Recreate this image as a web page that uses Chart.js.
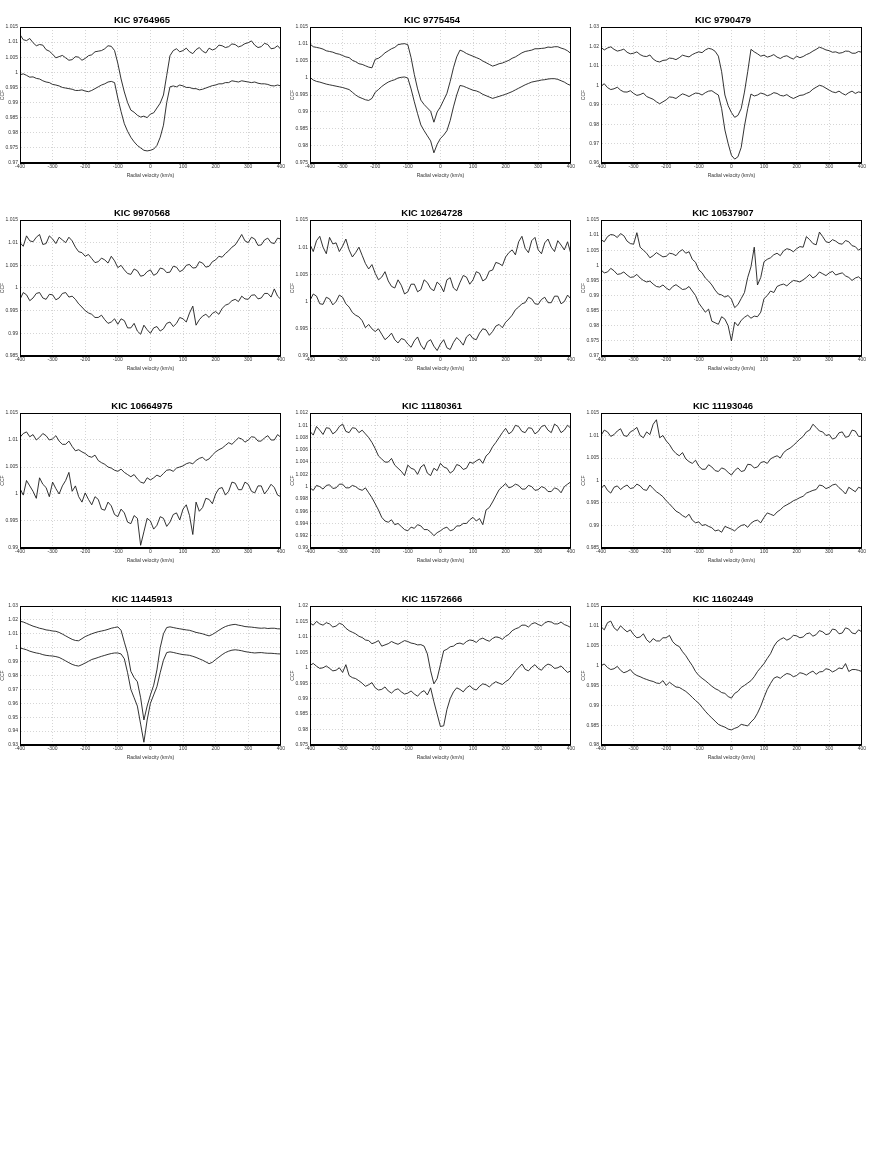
<!DOCTYPE html>
<html>
<head>
<meta charset="utf-8">
<script src="https://cdn.jsdelivr.net/npm/chart.js@4.4.1/dist/chart.umd.min.js"></script>
<style>
  body { margin: 0; background: #fff; }
  #wrap { position: relative; width: 872px; height: 1164px; }
  canvas { position: absolute; }
</style>
</head>
<body>
<div id="wrap"></div>
<script>
// radial velocity grid (km/s), rows of ten
const vel = [
  -400, -390, -380, -370, -360, -350, -340, -330, -320, -310,
  -300, -290, -280, -270, -260, -250, -240, -230, -220, -210,
  -200, -190, -180, -170, -160, -150, -140, -130, -120, -110,
  -100, -90, -80, -70, -60, -50, -40, -30, -20, -10,
  0, 10, 20, 30, 40, 50, 60, 70, 80, 90,
  100, 110, 120, 130, 140, 150, 160, 170, 180, 190,
  200, 210, 220, 230, 240, 250, 260, 270, 280, 290,
  300, 310, 320, 330, 340, 350, 360, 370, 380, 390,
  400];

const titles = ['KIC 9764965', 'KIC 9775454', 'KIC 9790479', 'KIC 9970568', 'KIC 10264728', 'KIC 10537907',
  'KIC 10664975', 'KIC 11180361', 'KIC 11193046', 'KIC 11445913', 'KIC 11572666', 'KIC 11602449'];
const yMins = [0.97, 0.975, 0.96, 0.985, 0.99, 0.97, 0.99, 0.99, 0.985, 0.93, 0.975, 0.98];
const yMaxs = [1.015, 1.015, 1.03, 1.015, 1.015, 1.015, 1.015, 1.012, 1.015, 1.03, 1.02, 1.015];
const ySteps = [0.005, 0.005, 0.01, 0.005, 0.005, 0.005, 0.005, 0.002, 0.005, 0.01, 0.005, 0.005];

// CCF curves (upper / lower)
const top9764965 = [
  1.0125, 1.0108, 1.0105, 1.0112, 1.0098, 1.0088, 1.0092, 1.0090, 1.0075, 1.0070,
  1.0060, 1.0048, 1.0052, 1.0056, 1.0048, 1.0040, 1.0042, 1.0052, 1.0050, 1.0040,
  1.0046, 1.0055, 1.0058, 1.0068, 1.0070, 1.0072, 1.0078, 1.0088, 1.0086, 1.0072,
  1.0030, 0.9978, 0.9935, 0.9900, 0.9875, 0.9868, 0.9858, 0.9852, 0.9855, 0.9850,
  0.9862, 0.9866, 0.9882, 0.9898, 0.9925, 0.9990, 1.0055, 1.0072, 1.0078, 1.0068,
  1.0072, 1.0080, 1.0068, 1.0062, 1.0075, 1.0082, 1.0070, 1.0064, 1.0080, 1.0074,
  1.0078, 1.0090, 1.0088, 1.0082, 1.0085, 1.0094, 1.0092, 1.0084, 1.0088, 1.0095,
  1.0098, 1.0104, 1.0090, 1.0082, 1.0085, 1.0096, 1.0092, 1.0078, 1.0080, 1.0088,
  1.0076];
const bot9764965 = [
  0.9992, 0.9995, 0.9990, 0.9984, 0.9985, 0.9980, 0.9978, 0.9972, 0.9968, 0.9966,
  0.9960, 0.9958, 0.9955, 0.9950, 0.9948, 0.9946, 0.9944, 0.9940, 0.9940, 0.9942,
  0.9938, 0.9936, 0.9940, 0.9946, 0.9952, 0.9958, 0.9962, 0.9968, 0.9970, 0.9966,
  0.9915, 0.9870, 0.9830, 0.9805, 0.9785, 0.9770, 0.9758, 0.9750, 0.9742, 0.9740,
  0.9742, 0.9746, 0.9758, 0.9785, 0.9825, 0.9900, 0.9952, 0.9955, 0.9952, 0.9958,
  0.9955, 0.9950, 0.9950, 0.9946, 0.9946, 0.9942, 0.9944, 0.9948, 0.9952, 0.9956,
  0.9958, 0.9962, 0.9962, 0.9966, 0.9966, 0.9972, 0.9970, 0.9968, 0.9972, 0.9970,
  0.9968, 0.9966, 0.9968, 0.9964, 0.9962, 0.9962, 0.9960, 0.9956, 0.9955, 0.9958,
  0.9955];

const top9775454 = [
  1.0100, 1.0092, 1.0090, 1.0088, 1.0085, 1.0080, 1.0078, 1.0076, 1.0072, 1.0070,
  1.0066, 1.0062, 1.0060, 1.0052, 1.0048, 1.0042, 1.0040, 1.0036, 1.0032, 1.0030,
  1.0055, 1.0058, 1.0065, 1.0074, 1.0080, 1.0086, 1.0090, 1.0098, 1.0100, 1.0101,
  1.0098, 1.0060, 1.0010, 0.9968, 0.9935, 0.9922, 0.9912, 0.9902, 0.9870, 0.9900,
  0.9915, 0.9935, 0.9955, 0.9990, 1.0030, 1.0062, 1.0082, 1.0078, 1.0072, 1.0068,
  1.0064, 1.0060, 1.0056, 1.0050, 1.0045, 1.0040, 1.0035, 1.0038, 1.0042, 1.0044,
  1.0048, 1.0052, 1.0058, 1.0062, 1.0068, 1.0074, 1.0078, 1.0080, 1.0082, 1.0086,
  1.0086, 1.0087, 1.0088, 1.0091, 1.0090, 1.0092, 1.0092, 1.0088, 1.0085, 1.0080,
  1.0072];
const bot9775454 = [
  1.0002, 0.9994, 0.9990, 0.9988, 0.9985, 0.9982, 0.9980, 0.9978, 0.9976, 0.9974,
  0.9972, 0.9969, 0.9966, 0.9958, 0.9950, 0.9944, 0.9940, 0.9936, 0.9934, 0.9940,
  0.9958, 0.9966, 0.9975, 0.9982, 0.9988, 0.9992, 0.9995, 1.0000, 1.0002, 1.0003,
  1.0000, 0.9968, 0.9930, 0.9895, 0.9862, 0.9845, 0.9830, 0.9815, 0.9780, 0.9805,
  0.9822, 0.9832, 0.9845, 0.9875, 0.9915, 0.9950, 0.9978, 0.9976, 0.9972, 0.9968,
  0.9964, 0.9962, 0.9958, 0.9952, 0.9948, 0.9944, 0.9940, 0.9943, 0.9946, 0.9949,
  0.9952, 0.9956, 0.9960, 0.9965, 0.9970, 0.9975, 0.9980, 0.9984, 0.9988, 0.9990,
  0.9992, 0.9994, 0.9995, 0.9997, 0.9998, 0.9998, 0.9996, 0.9992, 0.9988, 0.9982,
  0.9978];

const top9790479 = [
  1.0195, 1.0182, 1.0192, 1.0198, 1.0185, 1.0176, 1.0180, 1.0186, 1.0170, 1.0162,
  1.0165, 1.0172, 1.0158, 1.0150, 1.0148, 1.0156, 1.0135, 1.0124, 1.0120, 1.0128,
  1.0130, 1.0140, 1.0138, 1.0132, 1.0142, 1.0155, 1.0150, 1.0146, 1.0158, 1.0166,
  1.0172, 1.0168, 1.0182, 1.0190, 1.0186, 1.0175, 1.0150, 1.0070, 0.9950, 0.9895,
  0.9860, 0.9835, 0.9845, 0.9880, 0.9965, 1.0070, 1.0185, 1.0172, 1.0162, 1.0150,
  1.0155, 1.0145, 1.0150, 1.0158, 1.0145, 1.0138, 1.0148, 1.0152, 1.0142, 1.0135,
  1.0150, 1.0142, 1.0148, 1.0158, 1.0165, 1.0176, 1.0185, 1.0196, 1.0190, 1.0182,
  1.0178, 1.0170, 1.0172, 1.0165, 1.0168, 1.0176, 1.0175, 1.0165, 1.0165, 1.0174,
  1.0170];
const bot9790479 = [
  0.9995, 1.0008, 0.9988, 0.9978, 0.9982, 0.9990, 0.9975, 0.9966, 0.9965, 0.9972,
  0.9958, 0.9948, 0.9952, 0.9960, 0.9942, 0.9935, 0.9928, 0.9915, 0.9905, 0.9915,
  0.9925, 0.9940, 0.9938, 0.9932, 0.9945, 0.9956, 0.9950, 0.9942, 0.9952, 0.9960,
  0.9958, 0.9950, 0.9962, 0.9970, 0.9972, 0.9960, 0.9950, 0.9880, 0.9770, 0.9700,
  0.9640, 0.9620, 0.9632, 0.9680, 0.9790, 0.9880, 0.9955, 0.9945, 0.9950, 0.9960,
  0.9955, 0.9946, 0.9952, 0.9962, 0.9958, 0.9948, 0.9945, 0.9952, 0.9940, 0.9932,
  0.9940, 0.9948, 0.9950, 0.9958, 0.9965, 0.9980, 0.9990, 1.0000, 0.9995, 0.9985,
  0.9975, 0.9966, 0.9962, 0.9970, 0.9958, 0.9950, 0.9962, 0.9970, 0.9958, 0.9966,
  0.9962];

const top9970568 = [
  1.0100, 1.0092, 1.0115, 1.0104, 1.0102, 1.0112, 1.0118, 1.0096, 1.0098, 1.0115,
  1.0108, 1.0098, 1.0112, 1.0106, 1.0100, 1.0112, 1.0104, 1.0090, 1.0080, 1.0078,
  1.0070, 1.0074, 1.0065, 1.0056, 1.0058, 1.0066, 1.0062, 1.0055, 1.0070, 1.0060,
  1.0045, 1.0050, 1.0040, 1.0032, 1.0030, 1.0042, 1.0038, 1.0026, 1.0028, 1.0036,
  1.0040, 1.0028, 1.0032, 1.0044, 1.0042, 1.0034, 1.0035, 1.0048, 1.0046, 1.0036,
  1.0040, 1.0050, 1.0052, 1.0044, 1.0045, 1.0058, 1.0055, 1.0046, 1.0048, 1.0058,
  1.0062, 1.0070, 1.0068, 1.0076, 1.0082, 1.0090, 1.0095, 1.0106, 1.0118, 1.0104,
  1.0100, 1.0112, 1.0108, 1.0094, 1.0095, 1.0106, 1.0110, 1.0100, 1.0098, 1.0110,
  1.0108];
const bot9970568 = [
  0.9975, 0.9990, 0.9985, 0.9972, 0.9978, 0.9988, 0.9990, 0.9978, 0.9975, 0.9986,
  0.9985, 0.9974, 0.9978, 0.9988, 0.9990, 0.9980, 0.9982, 0.9975, 0.9965, 0.9958,
  0.9950, 0.9945, 0.9942, 0.9935, 0.9935, 0.9940, 0.9930, 0.9922, 0.9925, 0.9932,
  0.9920, 0.9932, 0.9928, 0.9912, 0.9912, 0.9922, 0.9905, 0.9898, 0.9918, 0.9908,
  0.9900, 0.9912, 0.9915, 0.9905, 0.9910, 0.9922, 0.9925, 0.9915, 0.9922, 0.9935,
  0.9932, 0.9925, 0.9945, 0.9960, 0.9918, 0.9930, 0.9938, 0.9942, 0.9935, 0.9944,
  0.9948, 0.9942, 0.9955, 0.9962, 0.9965, 0.9972, 0.9975, 0.9970, 0.9982, 0.9976,
  0.9975, 0.9984, 0.9985, 0.9976, 0.9978, 0.9988, 0.9988, 0.9980, 0.9998, 0.9982,
  0.9975];

const top10264728 = [
  1.0105, 1.0092, 1.0112, 1.0120, 1.0100, 1.0088, 1.0118, 1.0106, 1.0108, 1.0092,
  1.0102, 1.0115, 1.0095, 1.0082, 1.0090, 1.0100, 1.0085, 1.0070, 1.0060, 1.0068,
  1.0052, 1.0040, 1.0045, 1.0055, 1.0038, 1.0028, 1.0025, 1.0040, 1.0030, 1.0014,
  1.0018, 1.0032, 1.0032, 1.0018, 1.0022, 1.0040, 1.0035, 1.0024, 1.0020, 1.0036,
  1.0030, 1.0018, 1.0040, 1.0044, 1.0025, 1.0020, 1.0035, 1.0048, 1.0045, 1.0032,
  1.0040, 1.0055, 1.0052, 1.0038, 1.0042, 1.0056, 1.0058, 1.0072, 1.0070, 1.0066,
  1.0082, 1.0090, 1.0095, 1.0086, 1.0110, 1.0120, 1.0098, 1.0090, 1.0112, 1.0118,
  1.0095, 1.0088, 1.0108, 1.0115, 1.0100, 1.0092, 1.0112, 1.0104, 1.0095, 1.0110,
  1.0088];
const bot10264728 = [
  1.0002, 1.0014, 1.0010, 0.9996, 0.9995, 1.0008, 1.0005, 0.9994, 1.0000, 1.0012,
  1.0008, 0.9996, 0.9990, 0.9980, 0.9975, 0.9972, 0.9965, 0.9952, 0.9958, 0.9950,
  0.9945, 0.9950, 0.9940, 0.9930, 0.9935, 0.9942, 0.9930, 0.9924, 0.9932, 0.9930,
  0.9922, 0.9916, 0.9928, 0.9935, 0.9920, 0.9912, 0.9926, 0.9930, 0.9918, 0.9910,
  0.9922, 0.9930, 0.9915, 0.9912, 0.9925, 0.9934, 0.9928, 0.9920, 0.9935, 0.9940,
  0.9932, 0.9930, 0.9942, 0.9950, 0.9948, 0.9938, 0.9945, 0.9955, 0.9958, 0.9952,
  0.9962, 0.9968, 0.9975, 0.9985, 0.9990, 0.9996, 0.9998, 1.0008, 1.0005, 0.9996,
  0.9995, 1.0004, 1.0008, 0.9998, 0.9998, 1.0010, 1.0010, 0.9996, 1.0000, 1.0012,
  1.0005];

const top10537907 = [
  1.0085, 1.0078, 1.0095, 1.0102, 1.0100, 1.0092, 1.0105, 1.0098, 1.0080, 1.0072,
  1.0070, 1.0108, 1.0060, 1.0050, 1.0040, 1.0025, 1.0032, 1.0042, 1.0035, 1.0028,
  1.0030, 1.0040, 1.0038, 1.0032, 1.0045, 1.0052, 1.0040, 1.0045, 1.0020, 1.0010,
  0.9985, 0.9975, 0.9958, 0.9948, 0.9935, 0.9918, 0.9905, 0.9902, 0.9895, 0.9900,
  0.9888, 0.9860, 0.9870, 0.9890, 0.9910, 0.9960, 0.9995, 1.0060, 0.9935, 0.9960,
  1.0012, 1.0020, 1.0025, 1.0035, 1.0040, 1.0032, 1.0048, 1.0055, 1.0052, 1.0045,
  1.0055, 1.0062, 1.0060, 1.0095, 1.0085, 1.0072, 1.0068, 1.0110, 1.0095, 1.0078,
  1.0075, 1.0085, 1.0080, 1.0072, 1.0070, 1.0082, 1.0078, 1.0065, 1.0062, 1.0050,
  1.0058];
const bot10537907 = [
  0.9985, 0.9975, 0.9978, 0.9990, 0.9982, 0.9970, 0.9972, 0.9978, 0.9968, 0.9960,
  0.9962, 0.9970, 0.9958, 0.9950, 0.9945, 0.9948, 0.9938, 0.9930, 0.9928, 0.9935,
  0.9925, 0.9918, 0.9930, 0.9936, 0.9928, 0.9920, 0.9922, 0.9930, 0.9915, 0.9900,
  0.9875, 0.9860, 0.9845, 0.9855, 0.9815, 0.9810, 0.9805, 0.9830, 0.9822, 0.9800,
  0.9750, 0.9812, 0.9800, 0.9818, 0.9828, 0.9835, 0.9825, 0.9832, 0.9830, 0.9845,
  0.9890, 0.9900, 0.9915, 0.9910, 0.9930, 0.9935, 0.9938, 0.9932, 0.9942, 0.9950,
  0.9948, 0.9945, 0.9952, 0.9960, 0.9970, 0.9958, 0.9965, 0.9978, 0.9972, 0.9966,
  0.9975, 0.9980, 0.9968, 0.9972, 0.9975, 0.9965, 0.9960, 0.9950, 0.9958, 0.9962,
  0.9952];

const top10664975 = [
  1.0105, 1.0112, 1.0115, 1.0106, 1.0110, 1.0100, 1.0105, 1.0112, 1.0108, 1.0100,
  1.0102, 1.0108, 1.0098, 1.0092, 1.0092, 1.0098, 1.0088, 1.0080, 1.0082, 1.0078,
  1.0075, 1.0070, 1.0068, 1.0072, 1.0062, 1.0058, 1.0055, 1.0050, 1.0048, 1.0044,
  1.0042, 1.0046, 1.0040, 1.0036, 1.0032, 1.0036, 1.0028, 1.0022, 1.0020, 1.0030,
  1.0026, 1.0030, 1.0035, 1.0032, 1.0038, 1.0044, 1.0045, 1.0042, 1.0048, 1.0050,
  1.0052, 1.0056, 1.0058, 1.0056, 1.0062, 1.0066, 1.0068, 1.0062, 1.0065, 1.0072,
  1.0078, 1.0082, 1.0085, 1.0090, 1.0095, 1.0092, 1.0098, 1.0104, 1.0102, 1.0096,
  1.0100, 1.0106, 1.0105, 1.0098, 1.0098, 1.0104, 1.0108, 1.0100, 1.0100, 1.0110,
  1.0105];
const bot10664975 = [
  1.0010, 0.9998, 1.0025, 1.0015, 1.0005, 0.9992, 1.0030, 1.0018, 1.0012, 0.9995,
  1.0022, 1.0010, 1.0000, 1.0015, 1.0025, 1.0040, 1.0005, 1.0015, 0.9995, 0.9985,
  1.0002, 0.9990, 0.9980, 0.9995, 0.9990, 0.9972, 0.9970, 0.9985, 0.9978, 0.9962,
  0.9958, 0.9972, 0.9965, 0.9948, 0.9945, 0.9960, 0.9955, 0.9905, 0.9930, 0.9955,
  0.9950, 0.9935, 0.9942, 0.9958, 0.9955, 0.9940, 0.9948, 0.9962, 0.9965, 0.9952,
  0.9972, 0.9980, 0.9960, 0.9925, 0.9985, 0.9968, 0.9975, 0.9992, 0.9990, 0.9982,
  1.0000, 1.0010, 1.0012, 0.9998, 1.0005, 1.0022, 1.0020, 1.0008, 1.0008, 1.0022,
  1.0018, 1.0005, 1.0002, 1.0015, 1.0015, 1.0000, 1.0008, 1.0018, 1.0012, 0.9998,
  0.9995];

const top11180361 = [
  1.0090, 1.0084, 1.0098, 1.0092, 1.0085, 1.0096, 1.0095, 1.0086, 1.0090, 1.0098,
  1.0102, 1.0090, 1.0088, 1.0096, 1.0095, 1.0088, 1.0092, 1.0086, 1.0080, 1.0072,
  1.0062, 1.0050, 1.0045, 1.0040, 1.0040, 1.0046, 1.0035, 1.0030, 1.0025, 1.0018,
  1.0035, 1.0030, 1.0028, 1.0020, 1.0032, 1.0036, 1.0022, 1.0018, 1.0030, 1.0026,
  1.0038, 1.0032, 1.0030, 1.0022, 1.0026, 1.0036, 1.0034, 1.0028, 1.0030, 1.0040,
  1.0038, 1.0042, 1.0045, 1.0038, 1.0050, 1.0055, 1.0065, 1.0072, 1.0080, 1.0088,
  1.0095, 1.0086, 1.0090, 1.0100, 1.0098, 1.0090, 1.0088, 1.0096, 1.0095, 1.0086,
  1.0090, 1.0098, 1.0100, 1.0092, 1.0088, 1.0102, 1.0098, 1.0088, 1.0092, 1.0100,
  1.0095];
const bot11180361 = [
  0.9998, 0.9994, 1.0002, 1.0000, 0.9996, 1.0002, 1.0003, 0.9997, 0.9998, 1.0004,
  1.0004, 0.9998, 0.9998, 1.0002, 1.0000, 0.9996, 0.9994, 0.9998, 0.9990, 0.9982,
  0.9972, 0.9962, 0.9950, 0.9944, 0.9942, 0.9946, 0.9938, 0.9940, 0.9935, 0.9930,
  0.9928, 0.9934, 0.9932, 0.9938, 0.9936, 0.9930, 0.9930, 0.9926, 0.9920, 0.9925,
  0.9928, 0.9932, 0.9934, 0.9928, 0.9930, 0.9936, 0.9936, 0.9940, 0.9940, 0.9946,
  0.9950, 0.9944, 0.9948, 0.9938, 0.9962, 0.9966, 0.9975, 0.9985, 0.9995, 1.0000,
  1.0005, 0.9998, 1.0000, 1.0004, 1.0002, 0.9996, 0.9996, 1.0002, 1.0000, 0.9994,
  0.9995, 1.0000, 0.9998, 0.9992, 0.9992, 0.9998, 0.9996, 0.9990, 1.0000, 1.0004,
  1.0008];

const top11193046 = [
  1.0100, 1.0112, 1.0108, 1.0098, 1.0102, 1.0110, 1.0115, 1.0100, 1.0098, 1.0108,
  1.0112, 1.0118, 1.0100, 1.0095, 1.0108, 1.0102, 1.0125, 1.0135, 1.0095, 1.0100,
  1.0088, 1.0080, 1.0068, 1.0060, 1.0055, 1.0062, 1.0048, 1.0042, 1.0038, 1.0045,
  1.0032, 1.0025, 1.0025, 1.0035, 1.0030, 1.0022, 1.0020, 1.0028, 1.0025, 1.0018,
  1.0012, 1.0022, 1.0028, 1.0020, 1.0022, 1.0036, 1.0035, 1.0028, 1.0030, 1.0040,
  1.0042, 1.0038, 1.0048, 1.0052, 1.0055, 1.0050, 1.0062, 1.0068, 1.0072, 1.0078,
  1.0085, 1.0092, 1.0098, 1.0108, 1.0112, 1.0125, 1.0118, 1.0110, 1.0108, 1.0100,
  1.0102, 1.0092, 1.0095, 1.0106, 1.0108, 1.0096, 1.0098, 1.0112, 1.0110, 1.0098,
  1.0098];
const bot11193046 = [
  0.9982, 0.9990, 0.9978, 0.9972, 0.9985, 0.9988, 0.9980, 0.9986, 0.9990, 0.9982,
  0.9984, 0.9992, 0.9988, 0.9980, 0.9978, 0.9990, 0.9982, 0.9975, 0.9970, 0.9964,
  0.9955, 0.9948, 0.9940, 0.9932, 0.9928, 0.9922, 0.9918, 0.9925, 0.9912, 0.9906,
  0.9908, 0.9900, 0.9902, 0.9898, 0.9895, 0.9888, 0.9890, 0.9885, 0.9898, 0.9895,
  0.9892, 0.9888, 0.9895, 0.9900, 0.9902, 0.9896, 0.9905, 0.9910, 0.9912, 0.9906,
  0.9918, 0.9928, 0.9925, 0.9922, 0.9930, 0.9935, 0.9942, 0.9946, 0.9950, 0.9955,
  0.9958, 0.9962, 0.9965, 0.9972, 0.9975, 0.9978, 0.9980, 0.9990, 0.9988, 0.9982,
  0.9985, 0.9990, 0.9992, 0.9984, 0.9978, 0.9970, 0.9985, 0.9980, 0.9975, 0.9985,
  0.9982];

const top11445913 = [
  1.0190, 1.0185, 1.0175, 1.0165, 1.0155, 1.0148, 1.0140, 1.0135, 1.0128, 1.0125,
  1.0120, 1.0118, 1.0110, 1.0098, 1.0085, 1.0072, 1.0060, 1.0052, 1.0050, 1.0065,
  1.0080, 1.0090, 1.0100, 1.0108, 1.0115, 1.0120, 1.0125, 1.0132, 1.0140, 1.0145,
  1.0150, 1.0125, 1.0040, 0.9960, 0.9830, 0.9785, 0.9755, 0.9640, 0.9480, 0.9580,
  0.9660, 0.9730, 0.9840, 1.0000, 1.0100, 1.0145, 1.0150, 1.0145, 1.0140, 1.0136,
  1.0132, 1.0128, 1.0125, 1.0118, 1.0110, 1.0105, 1.0100, 1.0092, 1.0085, 1.0095,
  1.0110, 1.0125, 1.0140, 1.0152, 1.0160, 1.0165, 1.0168, 1.0162, 1.0158, 1.0152,
  1.0150, 1.0148, 1.0145, 1.0142, 1.0140, 1.0142, 1.0138, 1.0140, 1.0140, 1.0136,
  1.0135];
const bot11445913 = [
  0.9998, 0.9992, 0.9985, 0.9975, 0.9968, 0.9962, 0.9958, 0.9950, 0.9945, 0.9942,
  0.9940, 0.9936, 0.9930, 0.9918, 0.9905, 0.9892, 0.9880, 0.9872, 0.9868, 0.9878,
  0.9890, 0.9902, 0.9915, 0.9922, 0.9930, 0.9938, 0.9945, 0.9952, 0.9958, 0.9962,
  0.9962, 0.9955, 0.9920, 0.9820, 0.9700, 0.9640, 0.9580, 0.9450, 0.9320, 0.9480,
  0.9600, 0.9660, 0.9720, 0.9820, 0.9910, 0.9965, 0.9970, 0.9966, 0.9960, 0.9955,
  0.9950, 0.9948, 0.9945, 0.9938, 0.9930, 0.9920, 0.9910, 0.9898, 0.9885, 0.9895,
  0.9915, 0.9932, 0.9950, 0.9965, 0.9975, 0.9982, 0.9985, 0.9982, 0.9978, 0.9972,
  0.9968, 0.9965, 0.9962, 0.9964, 0.9965, 0.9962, 0.9960, 0.9960, 0.9958, 0.9956,
  0.9955];

const top11572666 = [
  1.0145, 1.0138, 1.0150, 1.0142, 1.0138, 1.0146, 1.0142, 1.0132, 1.0135, 1.0144,
  1.0140, 1.0128, 1.0120, 1.0115, 1.0110, 1.0102, 1.0098, 1.0090, 1.0088, 1.0078,
  1.0082, 1.0088, 1.0070, 1.0074, 1.0078, 1.0085, 1.0080, 1.0076, 1.0082, 1.0088,
  1.0085, 1.0080, 1.0078, 1.0074, 1.0075, 1.0070, 1.0045, 0.9990, 0.9948, 0.9965,
  1.0010, 1.0055, 1.0060, 1.0068, 1.0070, 1.0078, 1.0080, 1.0076, 1.0085, 1.0090,
  1.0088, 1.0082, 1.0092, 1.0096, 1.0090, 1.0086, 1.0095, 1.0100, 1.0098, 1.0092,
  1.0102, 1.0108, 1.0120, 1.0126, 1.0130, 1.0138, 1.0138, 1.0132, 1.0142, 1.0146,
  1.0140, 1.0136, 1.0145, 1.0150, 1.0148, 1.0142, 1.0142, 1.0148, 1.0140, 1.0136,
  1.0130];
const bot11572666 = [
  1.0008, 1.0014, 1.0005, 0.9998, 1.0000, 1.0006, 0.9998, 0.9990, 0.9992, 1.0000,
  0.9985, 1.0010, 0.9975, 0.9968, 0.9965, 0.9958, 0.9950, 0.9940, 0.9945, 0.9952,
  0.9935, 0.9928, 0.9930, 0.9938, 0.9925, 0.9918, 0.9928, 0.9932, 0.9922, 0.9915,
  0.9918, 0.9925, 0.9915, 0.9908, 0.9920, 0.9926, 0.9912, 0.9935, 0.9890, 0.9850,
  0.9810, 0.9812, 0.9865, 0.9900, 0.9922, 0.9935, 0.9930, 0.9922, 0.9935, 0.9942,
  0.9932, 0.9928, 0.9940, 0.9948, 0.9945, 0.9938, 0.9948, 0.9955, 0.9950, 0.9946,
  0.9955, 0.9962, 0.9975, 0.9990, 1.0000, 1.0012, 0.9995, 0.9990, 1.0002, 1.0010,
  0.9998, 0.9992, 1.0005, 1.0012, 1.0008, 0.9998, 1.0000, 1.0006, 0.9995, 0.9985,
  0.9990];

const top11602449 = [
  1.0098, 1.0090, 1.0108, 1.0112, 1.0095, 1.0088, 1.0100, 1.0092, 1.0085, 1.0090,
  1.0078, 1.0070, 1.0072, 1.0080, 1.0065, 1.0058, 1.0068, 1.0062, 1.0062, 1.0070,
  1.0070, 1.0076, 1.0060, 1.0052, 1.0048, 1.0035, 1.0025, 1.0012, 1.0000, 0.9985,
  0.9975, 0.9968, 0.9962, 0.9955, 0.9948, 0.9942, 0.9938, 0.9932, 0.9930, 0.9922,
  0.9918, 0.9930, 0.9935, 0.9945, 0.9950, 0.9956, 0.9962, 0.9972, 0.9985, 0.9995,
  1.0005, 1.0018, 1.0030, 1.0048, 1.0060, 1.0066, 1.0070, 1.0064, 1.0068, 1.0076,
  1.0075, 1.0070, 1.0072, 1.0080, 1.0082, 1.0074, 1.0078, 1.0088, 1.0085, 1.0078,
  1.0080, 1.0092, 1.0090, 1.0080, 1.0082, 1.0095, 1.0092, 1.0082, 1.0080, 1.0090,
  1.0085];
const bot11602449 = [
  1.0000, 1.0004, 0.9995, 0.9990, 0.9992, 0.9998, 0.9988, 0.9982, 0.9985, 0.9990,
  0.9980, 0.9975, 0.9972, 0.9968, 0.9965, 0.9962, 0.9960, 0.9956, 0.9955, 0.9962,
  0.9950, 0.9958, 0.9952, 0.9946, 0.9945, 0.9940, 0.9935, 0.9928, 0.9920, 0.9912,
  0.9905, 0.9895, 0.9885, 0.9876, 0.9868, 0.9860, 0.9852, 0.9848, 0.9845, 0.9840,
  0.9838, 0.9842, 0.9845, 0.9852, 0.9850, 0.9848, 0.9858, 0.9866, 0.9880, 0.9898,
  0.9920, 0.9940, 0.9955, 0.9968, 0.9972, 0.9968, 0.9975, 0.9980, 0.9978, 0.9972,
  0.9975, 0.9982, 0.9980, 0.9976, 0.9982, 0.9986, 0.9978, 0.9984, 0.9985, 0.9992,
  0.9990, 0.9984, 0.9988, 0.9994, 0.9992, 1.0005, 0.9985, 0.9990, 0.9990, 0.9988,
  0.9985];

const upperCurves = [top9764965, top9775454, top9790479, top9970568, top10264728, top10537907,
  top10664975, top11180361, top11193046, top11445913, top11572666, top11602449];
const lowerCurves = [bot9764965, bot9775454, bot9790479, bot9970568, bot10264728, bot10537907,
  bot10664975, bot11180361, bot11193046, bot11445913, bot11572666, bot11602449];

// page layout
const colLefts = [0, 290, 581];
const rowTops = [13, 206, 399, 592];
const rowPlotH = [136, 136, 135, 139];
const plotW = 264;
const axisW = 20, axisH = 16, titleH = 14, padR = 2;
const FONT = 'Liberation Sans, Arial, sans-serif';

// closed black box round the plot area
const frame = {
  id: 'frame',
  afterDraw(chart) {
    const a = chart.chartArea, c = chart.ctx;
    c.save();
    c.strokeStyle = '#000';
    c.lineWidth = 1;
    c.strokeRect(Math.round(a.left) + 0.5, Math.round(a.top) + 0.5, Math.round(a.right - a.left) - 1, Math.round(a.bottom - a.top) - 1);
    c.restore();
  }
};

const fmt = v => String(+Number(v).toFixed(4));
const wrap = document.getElementById('wrap');

titles.forEach(function (title, i) {
  const row = Math.floor(i / 3), col = i % 3;
  const cv = document.createElement('canvas');
  const w = axisW + plotW + padR, h = titleH + rowPlotH[row] + axisH;
  cv.width = w; cv.height = h;
  cv.style.left = colLefts[col] + 'px';
  cv.style.top = rowTops[row] + 'px';
  cv.style.width = w + 'px'; cv.style.height = h + 'px';
  wrap.appendChild(cv);

  const mk = arr => vel.map((v, k) => ({ x: v, y: arr[k] }));

  new Chart(cv.getContext('2d'), {
    type: 'line',
    data: {
      datasets: [
        { data: mk(upperCurves[i]), borderColor: '#1c1c1c', borderWidth: 0.9, pointRadius: 0, tension: 0 },
        { data: mk(lowerCurves[i]), borderColor: '#1c1c1c', borderWidth: 0.9, pointRadius: 0, tension: 0 }
      ]
    },
    options: {
      responsive: false,
      animation: false,
      layout: { padding: { left: 0, right: padR, top: 0, bottom: 0 } },
      plugins: {
        legend: { display: false },
        tooltip: { enabled: false },
        title: {
          display: true,
          text: title,
          color: '#000',
          font: { family: FONT, size: 9.5, weight: 'bold', lineHeight: 1 },
          padding: { top: 3, bottom: 1.5 }
        }
      },
      scales: {
        x: {
          type: 'linear',
          min: -400, max: 400,
          afterFit: s => { s.height = axisH; },
          ticks: { stepSize: 100, color: '#333', padding: 1, maxRotation: 0, font: { family: FONT, size: 5 } },
          grid: { color: '#b8b8b8', lineWidth: 0.6, drawTicks: false },
          border: { display: true, color: '#000', dash: [1, 2] },
          title: { display: true, text: 'Radial velocity (km/s)', color: '#333', padding: 0, font: { family: FONT, size: 5 } }
        },
        y: {
          min: yMins[i], max: yMaxs[i],
          afterFit: s => { s.width = axisW; },
          ticks: { stepSize: ySteps[i], color: '#333', padding: 2, callback: fmt, font: { family: FONT, size: 5 } },
          grid: { color: '#b8b8b8', lineWidth: 0.6, drawTicks: false },
          border: { display: true, color: '#000', dash: [1, 2] },
          title: { display: true, text: 'CCF', color: '#333', padding: 0, font: { family: FONT, size: 5 } }
        }
      }
    },
    plugins: [frame]
  });
});
</script>
</body>
</html>
